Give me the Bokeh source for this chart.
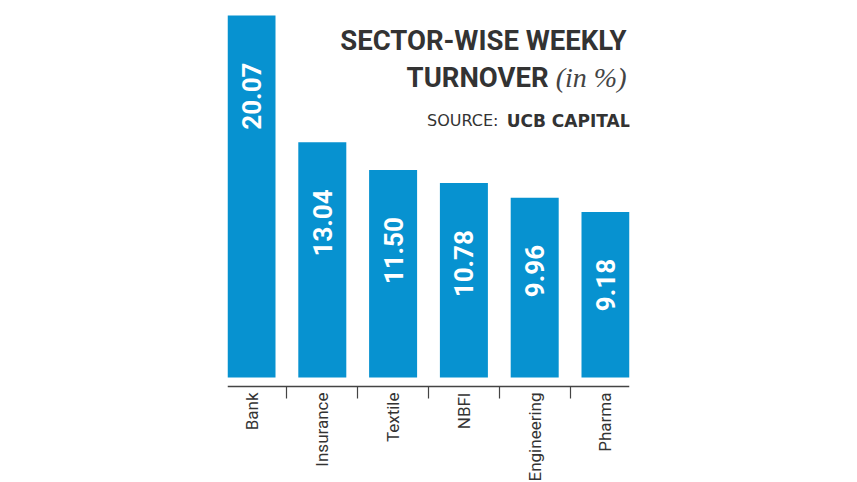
import math
from bokeh.plotting import figure
from bokeh.models import Range1d, FixedTicker, Label, ColumnDataSource
from bokeh.core.properties import value
from bokeh.embed import file_html
from bokeh.resources import INLINE

categories = ["Bank", "Insurance", "Textile", "NBFI", "Engineering", "Pharma"]
turnover = [20.07, 13.04, 11.50, 10.78, 9.96, 9.18]
value_labels = ["20.07", "13.04", "11.50", "10.78", "9.96", "9.18"]

NARROW = "Roboto, sans-serif"
BAR = "#0792d0"
DARK = "#333333"

xs = [i + 0.5 for i in range(len(categories))]
src = ColumnDataSource(dict(x=xs, top=turnover, lab=value_labels))

PX = 362 / 20.07          # pixels per unit
p = figure(width=857, height=482, output_backend="svg", toolbar_location=None,
           x_range=Range1d(0.161, 5.839),
           y_range=Range1d(-(482 - 377) / PX, 377 / PX),
           min_border_left=227, min_border_right=228, min_border_top=0,
           min_border_bottom=0, outline_line_color=None,
           background_fill_color="white", border_fill_color="white")

p.vbar(x="x", top="top", bottom=0, width=0.678, source=src,
       fill_color=BAR, line_color=None)

p.text(x="x", y="top", text="lab", source=src, angle=math.pi / 2,
       text_align="right", text_baseline="middle", y_offset=47,
       text_color="white", text_font=value(NARROW), text_font_style="bold",
       text_font_size="26px")

p.grid.visible = False
p.yaxis.visible = False

ax = p.xaxis[0]
ax.fixed_location = -9 / PX
ax.ticker = FixedTicker(ticks=xs, minor_ticks=[1, 2, 3, 4, 5])
ax.major_label_overrides = {x: c for x, c in zip(xs, categories)}
ax.major_label_orientation = math.pi / 2
ax.major_label_standoff = -6
ax.major_label_text_font = NARROW
ax.major_label_text_font_size = "17px"
ax.major_label_text_color = DARK
ax.major_tick_line_color = None
ax.major_tick_out = 0
ax.major_tick_in = 0
ax.minor_tick_line_color = "#444444"
ax.minor_tick_line_width = 1.2
ax.minor_tick_out = 12
ax.minor_tick_in = 0
ax.axis_line_color = "#444444"
ax.axis_line_width = 1.5

FB = 482  # frame bottom in canvas pixels
FL = 227  # frame left

def lab(text, right, baseline, size, font, style="normal", color=DARK):
    p.add_layout(Label(x=right - FL, y=FB - baseline, x_units="screen", y_units="screen",
                       text=text, text_align="right", text_baseline="alphabetic",
                       text_font=font, text_font_size=size, text_font_style=style,
                       text_color=color))

lab("SECTOR-WISE WEEKLY", 626, 40, "27.5px", NARROW, "bold")
lab("TURNOVER", 548, 77, "27.5px", NARROW, "bold")
lab("(in %)", 626, 77, "28px", "'Liberation Serif', serif", "italic", "#444444")
lab("SOURCE:", 498, 120, "16px", "'DejaVu Sans', sans-serif")
lab("UCB CAPITAL", 630, 120, "17px", "'DejaVu Sans', sans-serif", "bold")

open("out.html", "w").write(file_html(p, INLINE))
